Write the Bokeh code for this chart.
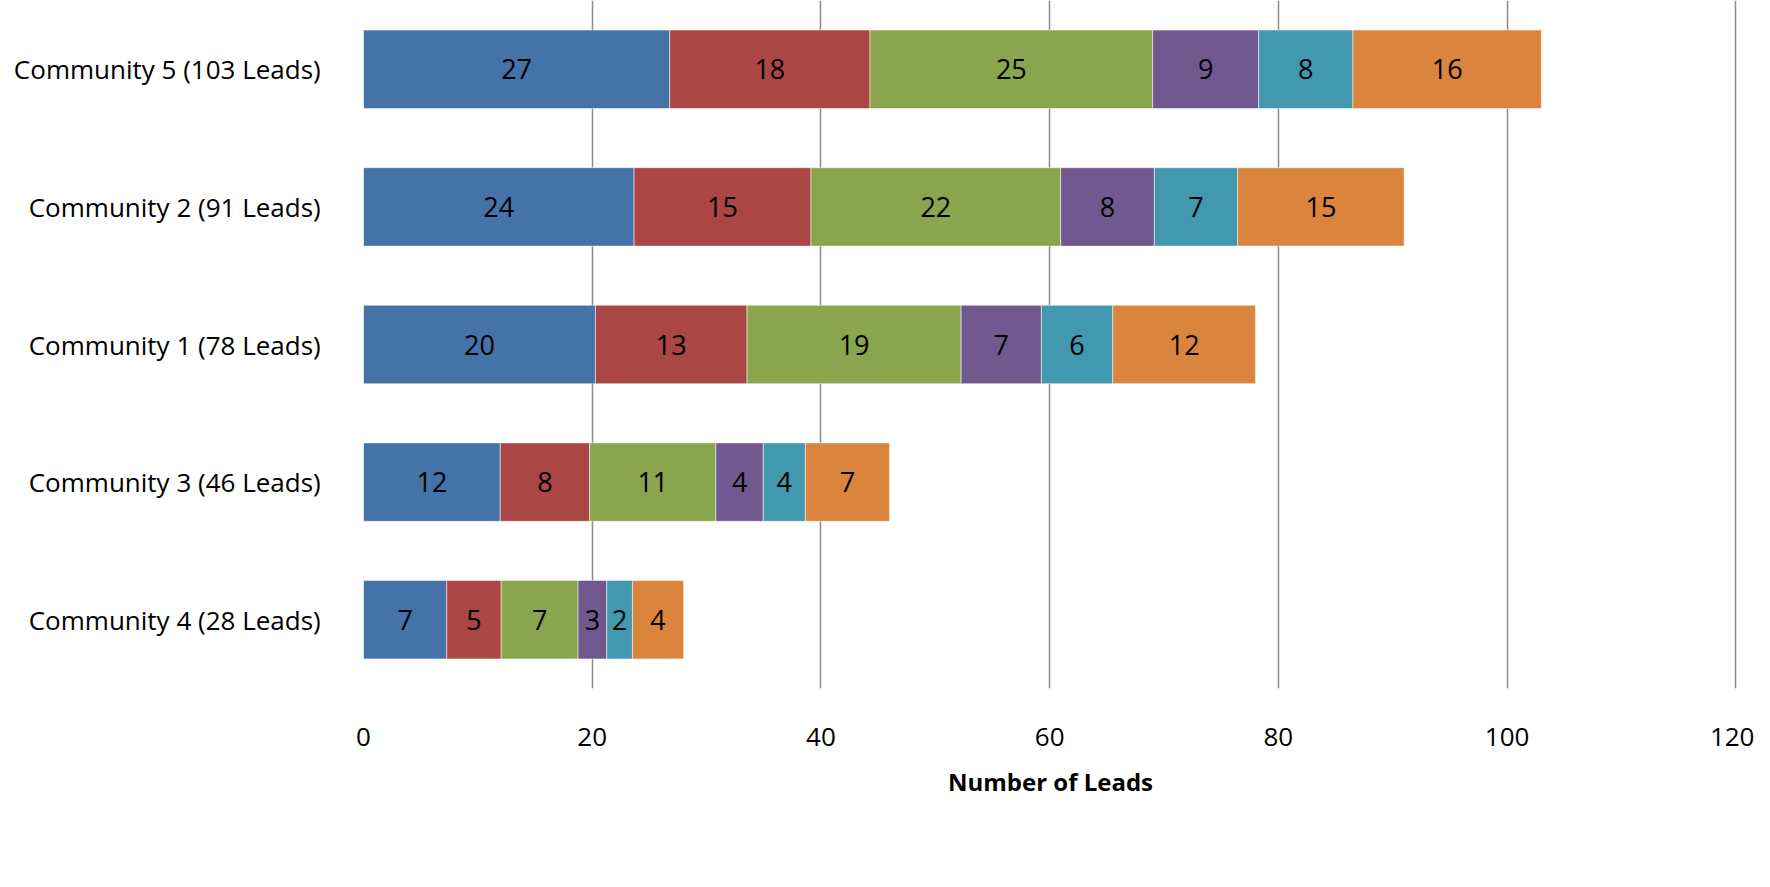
from bokeh.plotting import figure
from bokeh.models import ColumnDataSource, Legend, LegendItem, FactorRange, Range1d, FixedTicker
from bokeh.core.properties import value
from bokeh.embed import file_html
from bokeh.resources import INLINE

# categories, bottom to top
communities = [
    "Community 4  (28 Leads)",
    "Community 3  (46 Leads)",
    "Community 1  (78 Leads)",
    "Community 2  (91 Leads)",
    "Community 5  (103 Leads)",
]
series = ["Referrals", "Internet", "Drive By/Signage", "Event", "Advertising - Media", "Direct Mail"]
colors = ["#4572A7", "#AA4643", "#89A54E", "#71588F", "#4198AF", "#DB843D"]

# bar lengths (per community, bottom to top)
referrals = [7.28, 11.96, 20.28, 23.66, 26.78]
internet = [4.76, 7.82, 13.26, 15.47, 17.51]
drive_by = [6.72, 11.04, 18.72, 21.84, 24.72]
event = [2.52, 4.14, 7.02, 8.19, 9.27]
advertising = [2.24, 3.68, 6.24, 7.28, 8.24]
direct_mail = [4.48, 7.36, 12.48, 14.56, 16.48]

# data labels shown on the bars
referrals_lbl = [7, 12, 20, 24, 27]
internet_lbl = [5, 8, 13, 15, 18]
drive_by_lbl = [7, 11, 19, 22, 25]
event_lbl = [3, 4, 7, 8, 9]
advertising_lbl = [2, 4, 6, 7, 8]
direct_mail_lbl = [4, 7, 12, 15, 16]

x_ticks = [0, 20, 40, 60, 80, 100, 120]
x_title = "Number of Leads"

values = [referrals, internet, drive_by, event, advertising, direct_mail]
labels = [referrals_lbl, internet_lbl, drive_by_lbl, event_lbl, advertising_lbl, direct_mail_lbl]

FONT = "Open Sans"

p = figure(
    frame_width=1374, frame_height=688,
    y_range=FactorRange(*communities),
    x_range=Range1d(0, 120.15),
    output_backend="svg", toolbar_location=None,
    min_border_left=363, min_border_right=17, min_border_top=0, min_border_bottom=0,
)
p.outline_line_color = None
p.background_fill_color = "white"
p.border_fill_color = "white"

data = {"community": communities}
for s, v in zip(series, values):
    data[s] = v
source = ColumnDataSource(data)

renderers = p.hbar_stack(series, y="community", height=0.57, color=colors,
                         line_color="white", line_alpha=0.5, line_width=1, source=source)

# data labels at centre of each segment
cum = [0.0] * len(communities)
for v, lbl in zip(values, labels):
    centers = [c + x / 2 for c, x in zip(cum, v)]
    cum = [c + x for c, x in zip(cum, v)]
    lsrc = ColumnDataSource(dict(x=centers, y=communities, t=[str(l) for l in lbl]))
    p.text(x="x", y="y", text="t", source=lsrc, text_align="center", text_baseline="middle",
           text_font=value(FONT), text_font_size="27px", text_color="black")

# grid
p.ygrid.grid_line_color = None
p.xgrid.grid_line_color = "#8c8c8c"
p.xgrid.grid_line_width = 1.5

# x axis
p.xaxis.ticker = FixedTicker(ticks=x_ticks)
p.xaxis.axis_line_color = None
p.xaxis.major_tick_line_color = None
p.xaxis.minor_tick_line_color = None
p.xaxis.major_label_standoff = 33
p.xaxis.major_label_text_font = FONT
p.xaxis.major_label_text_font_size = "26px"
p.xaxis.major_label_text_color = "black"
p.xaxis.axis_label = x_title
p.xaxis.axis_label_text_font = FONT
p.xaxis.axis_label_text_font_size = "24px"
p.xaxis.axis_label_text_font_style = "bold"
p.xaxis.axis_label_text_color = "black"
p.xaxis.axis_label_standoff = 16

# y axis
p.yaxis.axis_line_color = None
p.yaxis.major_tick_line_color = None
p.yaxis.minor_tick_line_color = None
p.yaxis.major_label_standoff = 30
p.yaxis.major_label_text_font = FONT
p.yaxis.major_label_text_font_size = "26px"
p.yaxis.major_label_text_color = "black"

legend = Legend(
    items=[LegendItem(label=s, renderers=[r]) for s, r in zip(series, renderers)],
    orientation="horizontal", location="center",
    glyph_width=16, glyph_height=18, label_standoff=8, spacing=62,
    label_text_font=FONT, label_text_font_size="24px", label_text_color="black",
    border_line_color=None, background_fill_alpha=0, padding=0, margin=0,
)
p.add_layout(legend, "below")

open("out.html", "w").write(file_html(p, INLINE))
